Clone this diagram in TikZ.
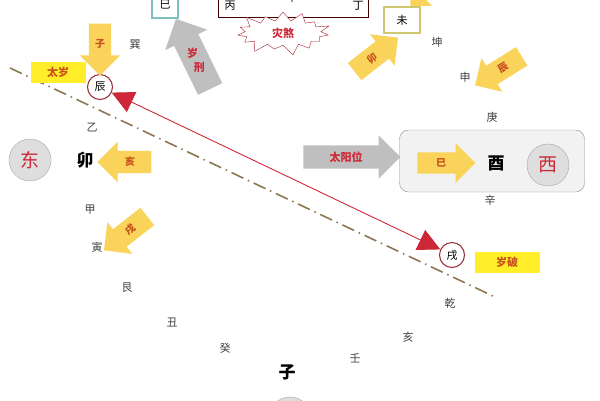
\documentclass[tikz,border=0pt]{standalone}
\usepackage{fontspec}
\setmainfont{Noto Sans CJK SC}
\usetikzlibrary{shapes.arrows,shapes.symbols,arrows.meta}
\definecolor{yel}{RGB}{250,212,90}
\definecolor{tagy}{RGB}{255,238,40}
\definecolor{ora}{RGB}{200,80,30}
\definecolor{dred}{RGB}{205,40,55}
\definecolor{olv}{RGB}{140,120,80}
\definecolor{ringc}{RGB}{150,40,50}
\begin{document}
\begin{tikzpicture}[x=1pt,y=-1pt,
  gan/.style={font=\fontsize{11}{11}\selectfont,text=black!75},
  big/.style={font=\fontsize{17}{17}\selectfont\bfseries,text=black},
  yarr/.style={single arrow,fill=yel,draw=none,inner sep=6pt,single arrow head extend=9pt,font=\fontsize{10}{10}\selectfont\bfseries,text=ora},
  garr/.style={single arrow,fill=black!25,draw=none,inner sep=6pt,single arrow head extend=10pt,font=\fontsize{11}{11}\selectfont\bfseries,text=dred},
  ring/.style={circle,draw=ringc,line width=1pt,inner sep=1pt,minimum size=25pt,font=\fontsize{11}{11}\selectfont},
  disc/.style={circle,fill=black!13,draw=black!35,minimum size=42pt,font=\fontsize{19}{19}\selectfont,text=dred},
  tag/.style={fill=tagy,minimum height=21pt,font=\fontsize{11}{11}\selectfont\bfseries,text=ora}]
	\useasboundingbox (0,0) rectangle (600,400);
	\clip (0,0) rectangle (600,400);
	% branches and stems round the circle
	\foreach \t/\x/\y [count=\i] in {巽/135/45,乙/92/128,甲/90/210,寅/97/247,艮/127/288,丑/172/322,癸/225/348,壬/355/358,亥/408/337,乾/450/303,辛/490/200,庚/492/117,申/465/77,坤/437/42}
	    \node[gan] (g\i) at (\x,\y) {\t};
	\node[big] (mao) at (85,160) {卯};
	\node[big] (zi) at (287,372) {子};
	% axis
	\coordinate (axa) at (10,68); \coordinate (axb) at (493,296);
	\draw[olv,line width=1.6pt,dash pattern=on 13pt off 5pt on 1.5pt off 5pt] (axa) -- (axb);
	\node[ring] (chen) at (100,87) {辰};
	\node[ring] (xu) at (452,255) {戌};
	\draw[dred,line width=0.9pt,{Triangle[length=22pt,width=22pt]}-{Triangle[length=22pt,width=22pt]}] (chen) -- (xu);
	\node[tag,minimum width=55pt] (taisui) at (58,72) {太岁};
	\node[tag,minimum width=65pt] (suipo) at (507,262) {岁破};
	% top
	\node[draw=black!75!red,line width=1pt,minimum width=150pt,minimum height=30pt] (top) at (293,2) {};
	\node[gan,text=black] (bing) at (230,6) {丙};
	\node[gan,text=black] (wu) at (292,-3) {午};
	\node[gan,text=black] (ding) at (358,6) {丁};
	\node[starburst,starburst points=15,starburst point height=12pt,draw=dred!80!black,fill=white,minimum width=100pt,minimum height=44pt,font=\fontsize{11}{11}\selectfont\bfseries,text=dred] (zaisha) at (283,33) {灾煞};
	\node[draw=teal!50,line width=1.2pt,minimum size=26pt,gan,text=black] (si) at (165,5) {巳};
	\node[draw=olive!45,line width=1.2pt,minimum width=36pt,minimum height=26pt,gan,text=black] (wei) at (402,20) {未};
	% east and west
	\node[disc] (dong) at (30,160) {东};
	\node[rounded corners=9pt,fill=black!5,draw=black!45,minimum width=185pt,minimum height=62pt] (xibox) at (492,161) {};
	\node[big] (you) at (496,163) {酉};
	\node[disc] (xi) at (548,165) {西};
	\node[disc] (nan) at (290,418) {};
	% arrows
	\node[garr,minimum height=97pt] (taiyang) at (346,157) {太阳位};
	\node[garr,minimum height=78pt,rotate=-64,shape border rotate=180] (xiongfang) at (196,60) {\rotatebox{64}{岁}\,\rotatebox{64}{刑}};
	\node[yarr,minimum height=52pt,rotate=-90] (az) at (100,44) {\rotatebox{90}{子}};
	\node[yarr,minimum height=58pt] (asi) at (441,163) {巳};
	\node[yarr,minimum height=54pt,rotate=180] (ahai) at (130,162) {\rotatebox{180}{亥}};
	\node[yarr,minimum height=55pt,rotate=218] (axu) at (130,230) {\rotatebox{180}{戌}};
	\node[yarr,minimum height=55pt,rotate=38] (amao) at (372,58) {卯};
	\node[yarr,minimum height=55pt,rotate=212] (achen) at (503,68) {\rotatebox{180}{辰}};
	\node[yarr,minimum height=44pt,rotate=225] (awu) at (428,-12) {};
\end{tikzpicture}
\end{document}
